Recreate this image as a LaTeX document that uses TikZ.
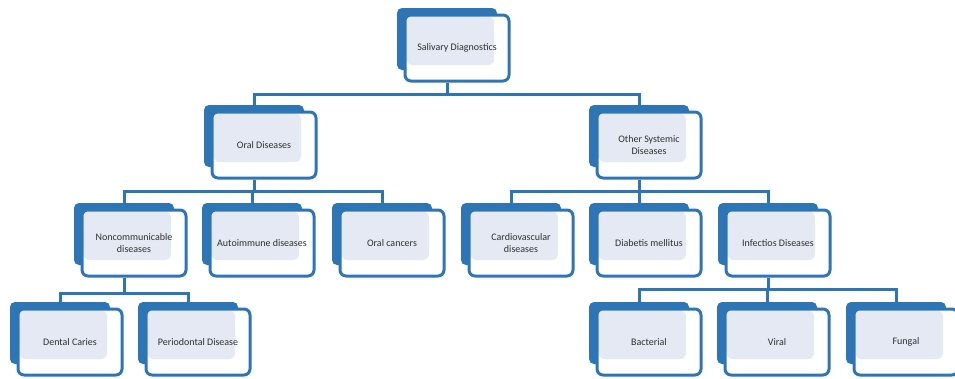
\documentclass[tikz,border=0pt]{standalone}
\usepackage{fontspec}
\setmainfont{Carlito}
\definecolor{boxblue}{HTML}{2E75B6}
\definecolor{boxpale}{HTML}{E4E9F3}
\definecolor{boxtext}{HTML}{303030}
\tikzset{
  backbox/.style={fill=boxblue, rounded corners=5pt, minimum width=100pt, minimum height=62pt, inner sep=0pt},
  frontbox/.style={draw=boxblue, line width=3pt, fill=white, rounded corners=6pt,
    minimum width=104pt, minimum height=66pt, inner sep=2pt, align=center,
    text=boxtext, font=\fontsize{10}{11.5}\selectfont,
    path picture={\fill[boxpale] ([shift={(1.5pt,-1.5pt)}]path picture bounding box.north west)
      rectangle ([shift={(-15pt,16pt)}]path picture bounding box.south east);}},
  link/.style={draw=boxblue, line width=3pt}
}
\begin{document}
\begin{tikzpicture}[x=1pt, y=-1pt]
  \useasboundingbox (0,0) rectangle (955,378);
  % boxes: back plate, then the front card with its text
  \foreach \n/\x/\y/\t in {root/447/39/{Salivary Diagnostics},
      oral/254/136/{Oral Diseases}, other/639/136/{Other Systemic\\Diseases},
      noncom/124/234/{Noncommunicable\\diseases}, auto/252/234/{Autoimmune diseases},
      oralc/382/234/{Oral cancers}, cardio/511/234/{Cardiovascular\\diseases},
      diab/639/234/{Diabetis mellitus}, infect/768/234/{Infectios Diseases},
      dental/60/333/{Dental Caries}, perio/188/333/{Periodontal Disease},
      bact/639/333/{Bacterial}, viral/767/333/{Viral}, fungal/896/333/{Fungal}} {
    \node[backbox] (\n-b) at (\x,\y) {};
    \node[frontbox] (\n) at (\x+10,\y+9) {\t};
  }
  % connectors
  \foreach \p/\c/\d in {root/oral/12, root/other/12,
      oral/noncom/12, oral/auto/12, oral/oralc/12,
      other/cardio/12, other/diab/12, other/infect/12,
      noncom/dental/16, noncom/perio/16,
      infect/bact/12, infect/viral/12, infect/fungal/12} {
    \draw[link] (\p-b |- \p.south) -- ++(0,\d) -| (\c-b.north);
  }
\end{tikzpicture}
\end{document}
